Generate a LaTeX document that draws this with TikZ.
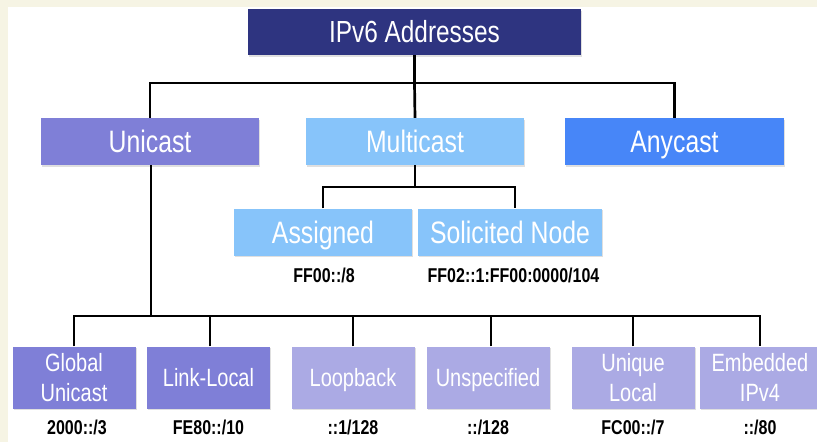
\documentclass[tikz,border=0pt]{standalone}
\usepackage{fontspec}
\setmainfont{Liberation Sans}[FakeStretch=0.8]
\usetikzlibrary{shadows}
\definecolor{bgbeige}{HTML}{F6F4E4}
\definecolor{navy}{HTML}{2E3480}
\definecolor{unipurple}{HTML}{7F7FD7}
\definecolor{multiblue}{HTML}{87C4FA}
\definecolor{anyblue}{HTML}{4786F8}
\definecolor{lavender}{HTML}{ABAAE4}
\tikzset{
  box/.style={rectangle, inner sep=0pt, text=white, align=center, text depth=0pt,
    drop shadow={opacity=0.25, shadow xshift=1pt, shadow yshift=-1.5pt}},
  lvlone/.style={box, text height=21.8pt, font=\fontsize{30.5}{36}\selectfont},
  lvltwo/.style={box, text height=22.2pt, minimum height=47pt, font=\fontsize{31}{36}\selectfont},
  lvlthree/.style={box, text height=22.2pt, minimum height=47pt, font=\fontsize{31}{36}\selectfont},
  leaf/.style={box, text height=17.9pt, minimum width=123pt, minimum height=62pt, font=\fontsize{25}{30}\selectfont},
  leaftwo/.style={leaf, text height=47.9pt},
  addr/.style={font=\bfseries\fontsize{20}{22}\selectfont, text=black, inner sep=0pt,
    text height=14.3pt, text depth=0pt},
  conn/.style={line width=2.7pt, black}
}
\begin{document}
\begin{tikzpicture}[x=1pt, y=-1pt]
\useasboundingbox (0,0) rectangle (817,442);
\fill[bgbeige] (0,0) rectangle (817,442);
\fill[white] (8,7) rectangle (817,442);

% nodes
\node[lvlone, fill=navy, minimum width=333pt, minimum height=46pt] (top) at (414.5,32) {IPv6 Addresses};

\node[lvltwo, fill=unipurple, minimum width=218pt] (uni) at (150,141.5) {Unicast};
\node[lvltwo, fill=multiblue, minimum width=218pt] (multi) at (415,141.5) {Multicast};
\node[lvltwo, fill=anyblue, minimum width=219pt] (any) at (674.5,141.5) {Anycast};

\node[lvlthree, fill=multiblue, minimum width=178pt] (assigned) at (323,232) {Assigned};
\node[lvlthree, fill=multiblue, minimum width=184pt] (solic) at (510,232) {Solicited Node};
\node[addr] (assignedaddr) at (324,275) {FF00::/8};
\node[addr] (solicaddr) at (513.5,275) {FF02::1:FF00:0000/104};

\node[leaftwo, fill=unipurple] (global) at (74,377.5) {Global\\Unicast};
\node[leaf, fill=unipurple] (link) at (208.5,377.5) {Link-Local};
\node[leaf, fill=lavender] (loop) at (353,377.5) {Loopback};
\node[leaf, fill=lavender] (unspec) at (488,377.5) {Unspecified};
\node[leaftwo, fill=lavender] (unique) at (633,377.5) {Unique\\Local};
\node[leaftwo, fill=lavender, minimum width=120pt] (embed) at (760,377.5) {Embedded\\IPv4};

\node[addr] (globaladdr) at (77,427) {2000::/3};
\node[addr] (linkaddr) at (208.5,427) {FE80::/10};
\node[addr] (loopaddr) at (353,427) {::1/128};
\node[addr] (unspecaddr) at (488,427) {::/128};
\node[addr] (uniqueaddr) at (633,427) {FC00::/7};
\node[addr] (embedaddr) at (760,427) {::/80};

% junction coordinates
\coordinate (tb) at (414.5,83);
\coordinate (mb) at (415,187);
\coordinate (ub) at (151,316);

% connectors
\draw[conn] (top.south) -- (tb);
\draw[conn] (uni.north) |- (tb) -| (any.north);
\draw[conn] (tb) -- (multi.north);

\draw[conn] (multi.south) -- (mb);
\draw[conn] (assigned.north) |- (mb) -| ([xshift=5pt]solic.north);

\draw[conn] ([xshift=1pt]uni.south) -- (ub);
\draw[conn] (global.north) |- (ub) -| (embed.north);
\draw[conn] ([xshift=1.5pt]link.north) -- ([xshift=1.5pt]link.north |- ub);
\draw[conn] (loop.north) -- (loop.north |- ub);
\draw[conn] ([xshift=3pt]unspec.north) -- ([xshift=3pt]unspec.north |- ub);
\draw[conn] (unique.north) -- (unique.north |- ub);
\end{tikzpicture}
\end{document}
